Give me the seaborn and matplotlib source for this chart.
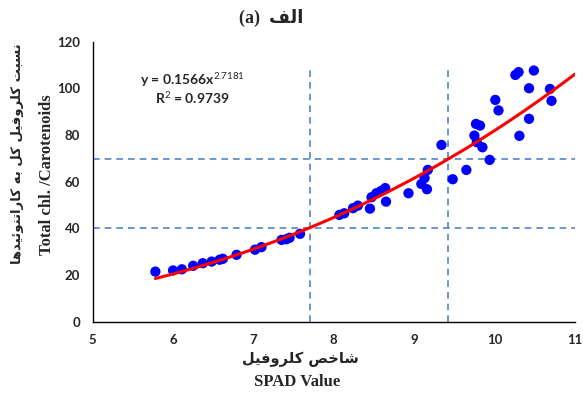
import numpy as np
import pandas as pd
import seaborn as sns
import matplotlib.pyplot as plt

# SPAD value vs total chlorophyll / carotenoids
spad = [5.78, 6.00, 6.11, 6.25, 6.37, 6.48, 6.58, 6.62, 6.79, 7.02,
        7.10, 7.35, 7.41, 7.45, 7.58, 8.07, 8.13, 8.24, 8.30, 8.45,
        8.47, 8.53, 8.59, 8.64, 8.65, 8.93, 9.09, 9.13, 9.16, 9.17,
        9.34, 9.48, 9.65, 9.75, 9.77, 9.82, 9.78, 9.85, 9.94, 10.01,
        10.05, 10.26, 10.30, 10.31, 10.43, 10.43, 10.49, 10.69, 10.71]
ratio = [21.4, 21.9, 22.4, 23.9, 25.0, 25.7, 26.5, 26.9, 28.6, 30.8,
         31.9, 35.0, 35.3, 35.9, 37.6, 45.7, 46.4, 48.6, 49.7, 48.4,
         53.3, 55.0, 56.0, 57.2, 51.4, 55.0, 59.0, 61.5, 56.7, 65.0,
         75.7, 61.0, 65.0, 79.7, 84.7, 84.0, 76.9, 74.7, 69.3, 95.0,
         90.5, 105.7, 106.9, 79.6, 100.0, 86.9, 107.6, 99.7, 94.6]

# power trendline y = a * x^b shown on the chart
fit_a, fit_b = 0.1566, 2.7181
fit_start, fit_end = 5.78, 11.0

# dashed threshold lines
cut_x = [7.7, 9.42]
cut_y = [40.2, 69.6]
cut_top = 108.7

x_ticks = [5, 6, 7, 8, 9, 10, 11]
y_ticks = [0, 20, 40, 60, 80, 100, 120]


def shape_fa(text):
    # minimal Persian shaping: contextual presentation forms + visual order
    forms = {
        'ا': ('\uFE8D', '\uFE8E'), 'د': ('\uFEA9', '\uFEAA'),
        'ر': ('\uFEAD', '\uFEAE'), 'و': ('\uFEED', '\uFEEE'),
        'ب': ('\uFE8F', '\uFE90', '\uFE91', '\uFE92'),
        'ت': ('\uFE95', '\uFE96', '\uFE97', '\uFE98'),
        'خ': ('\uFEA5', '\uFEA6', '\uFEA7', '\uFEA8'),
        'س': ('\uFEB1', '\uFEB2', '\uFEB3', '\uFEB4'),
        'ش': ('\uFEB5', '\uFEB6', '\uFEB7', '\uFEB8'),
        'ص': ('\uFEB9', '\uFEBA', '\uFEBB', '\uFEBC'),
        'ف': ('\uFED1', '\uFED2', '\uFED3', '\uFED4'),
        'ل': ('\uFEDD', '\uFEDE', '\uFEDF', '\uFEE0'),
        'ن': ('\uFEE5', '\uFEE6', '\uFEE7', '\uFEE8'),
        'ه': ('\uFEE9', '\uFEEA', '\uFEEB', '\uFEEC'),
        'ئ': ('\uFE89', '\uFE8A', '\uFE8B', '\uFE8C'),
        'ک': ('\uFB8E', '\uFB8F', '\uFB90', '\uFB91'),
        'ی': ('\uFBFC', '\uFBFD', '\uFBFE', '\uFBFF'),
    }
    out = []
    for i, ch in enumerate(text):
        if ch not in forms:
            out.append(ch)
            continue
        prev = text[i - 1] if i > 0 else ''
        nxt = text[i + 1] if i + 1 < len(text) else ''
        join_prev = prev in forms and len(forms[prev]) == 4
        join_next = len(forms[ch]) == 4 and nxt in forms
        f = forms[ch]
        if join_prev and join_next:
            out.append(f[3])
        elif join_next:
            out.append(f[2])
        elif join_prev:
            out.append(f[1])
        else:
            out.append(f[0])
    return ''.join(out)[::-1]


df = pd.DataFrame({'SPAD': spad, 'Ratio': ratio})
fit_x = np.linspace(fit_start, fit_end, 200)
fit_df = pd.DataFrame({'SPAD': fit_x, 'Ratio': fit_a * fit_x ** fit_b})

sns.set_style('white')
plt.rcParams['mathtext.fontset'] = 'custom'
plt.rcParams['mathtext.rm'] = 'Lato'

fig = plt.figure(figsize=(5.83, 3.96), dpi=100)
ax = fig.add_axes([0.159, 0.188, 0.827, 0.707])

dash_col = '#4f86c6'
for xv in cut_x:
    ax.vlines(xv, 0, cut_top, colors=dash_col, linestyles=(0, (4, 3)), lw=1.2, zorder=1)
for yv in cut_y:
    ax.hlines(yv, 5, 11, colors=dash_col, linestyles=(0, (4, 3)), lw=1.2, zorder=1)

sns.scatterplot(data=df, x='SPAD', y='Ratio', ax=ax, color='#0000ff',
                s=55, edgecolor='none', zorder=3)
sns.lineplot(data=fit_df, x='SPAD', y='Ratio', ax=ax, color='#ff0000',
             lw=2.2, zorder=4)

ax.set_xlim(5, 11)
ax.set_ylim(0, 120)
ax.set_xticks(x_ticks)
ax.set_yticks(y_ticks)
ax.set_xlabel('')
ax.set_ylabel('')
for side in ['top', 'right']:
    ax.spines[side].set_visible(False)
for side in ['left', 'bottom']:
    ax.spines[side].set_color('black')
    ax.spines[side].set_linewidth(1.0)
ax.tick_params(axis='both', direction='out', length=5, width=1, color='black',
               labelsize=9.5, pad=4)
for lab in ax.get_xticklabels() + ax.get_yticklabels():
    lab.set_fontfamily('Lato')
    lab.set_fontweight('bold')

ax.text(0.206, 0.863, r'y = 0.1566x$^{2.7181}$', transform=ax.transAxes,
        ha='center', va='center', fontsize=10, fontweight='bold', family='Lato')
ax.text(0.206, 0.799, r'R$^{2}$ = 0.9739', transform=ax.transAxes,
        ha='center', va='center', fontsize=10, fontweight='bold', family='Lato')

fig.text(0.465, 0.955, '(a)  ' + shape_fa('الف'), ha='center', va='center',
         fontsize=13, fontweight='bold', family=['Liberation Serif', 'DejaVu Sans'])
fig.text(0.515, 0.092, shape_fa('شاخص کلروفیل'), ha='center', va='center',
         fontsize=10.5, fontweight='bold', family='DejaVu Sans')
fig.text(0.51, 0.035, 'SPAD Value', ha='center', va='center',
         fontsize=12, fontweight='bold', family='Liberation Serif')
fig.text(0.03, 0.613, shape_fa('نسبت کلروفیل کل به کاراتنوئیدها'), rotation=90,
         ha='center', va='center', fontsize=9.5, fontweight='bold', family='DejaVu Sans')
fig.text(0.08, 0.56, 'Total chl. /Carotenoids', rotation=90,
         ha='center', va='center', fontsize=12, fontweight='bold', family='Liberation Serif')

fig.savefig('out.png', dpi=100)
